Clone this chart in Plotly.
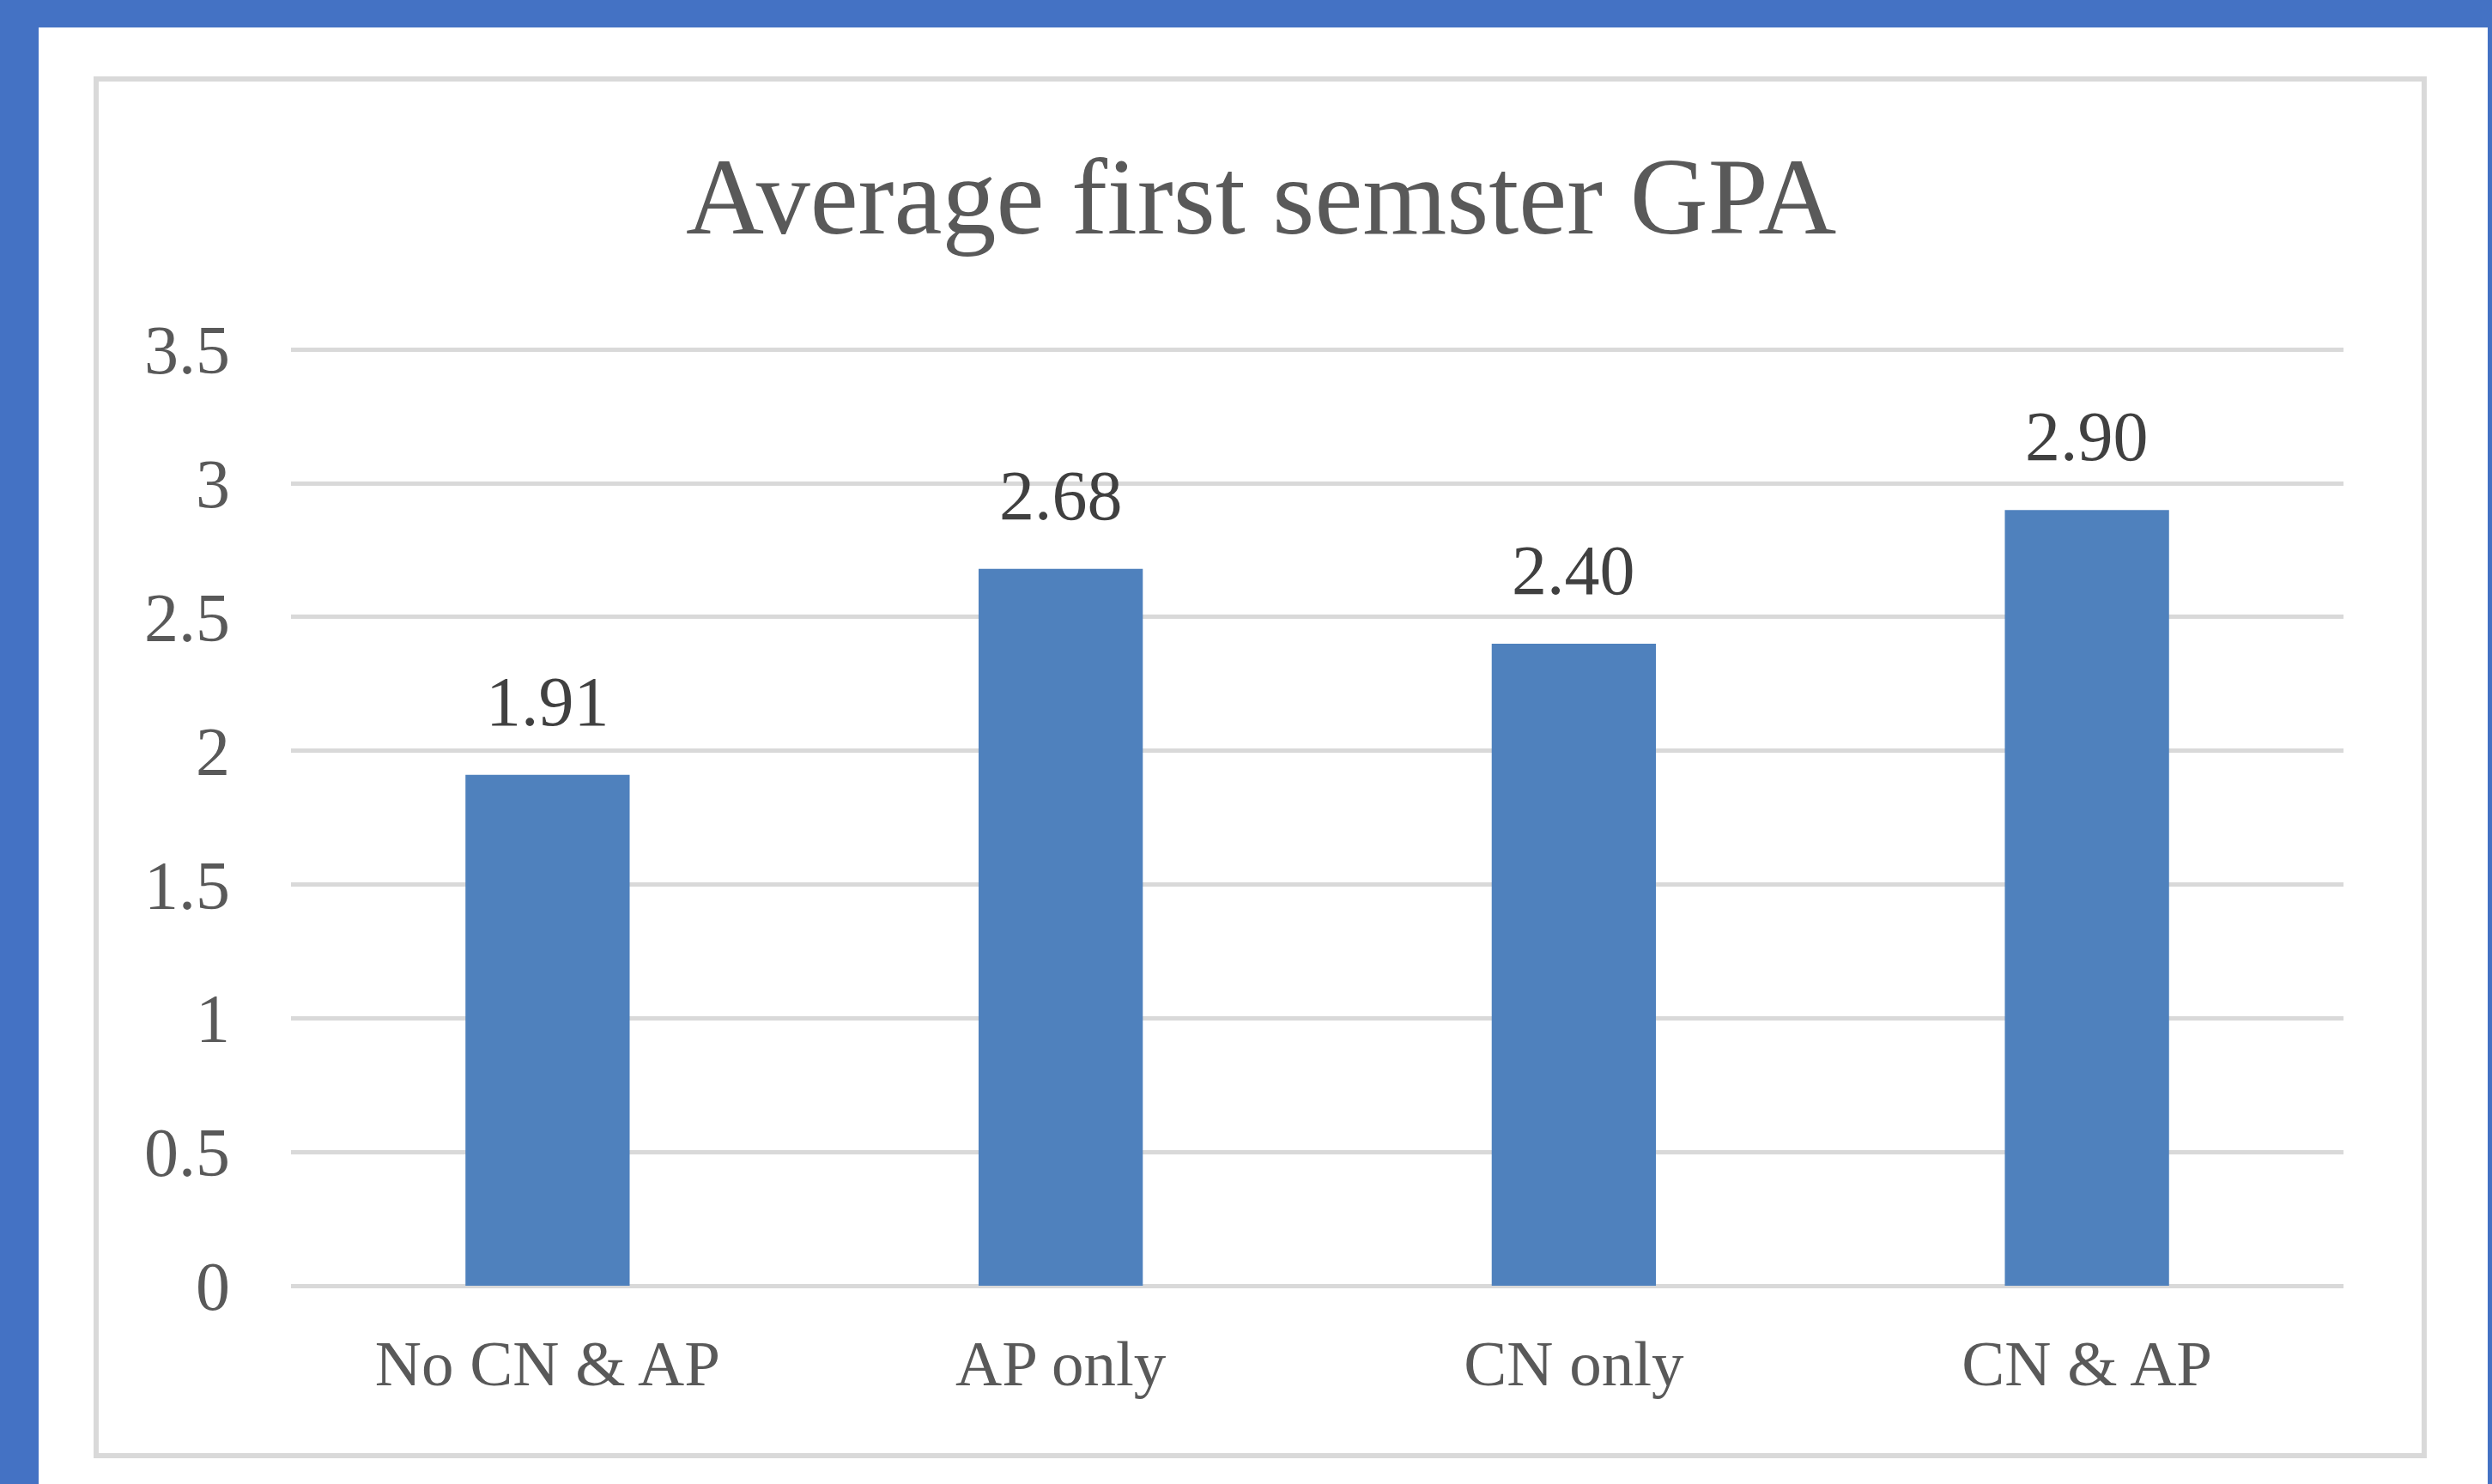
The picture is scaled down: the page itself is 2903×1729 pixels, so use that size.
import plotly.graph_objects as go

categories = ["No CN & AP", "AP only", "CN only", "CN & AP"]
gpa_values = [1.91, 2.68, 2.40, 2.90]
value_labels = ["1.91", "2.68", "2.40", "2.90"]
y_ticks = [0, 0.5, 1, 1.5, 2, 2.5, 3, 3.5]

W, H = 2903, 1729
L, R, T, B = 339, 2730, 405, 1498  # plot area in pixels
PW, PH = R - L, B - T


def px(x):
    return (x - L) / PW


def py(y):
    return (B - y) / PH


FONT = "Liberation Serif"
BAR = "#4F81BD"
GRID = "#D9D9D9"
BLUE = "#4472C4"

fig = go.Figure()
fig.add_trace(go.Bar(
    x=categories,
    y=gpa_values,
    width=0.32,
    marker=dict(color=BAR, line=dict(width=0)),
    hoverinfo="skip",
))

annotations = []
for c, v, t in zip(categories, gpa_values, value_labels):
    annotations.append(dict(
        x=c, y=v, xref="x", yref="y", text=t, showarrow=False,
        yanchor="bottom", yshift=38,
        font=dict(family=FONT, size=82, color="#404040"),
    ))

annotations.append(dict(
    x=px(1469), y=py(229), xref="paper", yref="paper",
    text="Average first semster GPA", showarrow=False,
    xanchor="center", yanchor="middle",
    font=dict(family=FONT, size=126, color="#595959"),
))

shapes = [
    # white inner page over blue frame
    dict(type="rect", xref="paper", yref="paper", layer="below",
         x0=px(45), x1=px(2898), y0=py(32), y1=py(1740),
         fillcolor="white", line=dict(width=0)),
    # chart area border
    dict(type="rect", xref="paper", yref="paper", layer="below",
         x0=px(112), x1=px(2824), y0=py(92), y1=py(1696),
         fillcolor="white", line=dict(color=GRID, width=6)),
]

fig.update_layout(
    width=W, height=H,
    margin=dict(l=L, r=W - R, t=T, b=H - B, pad=0),
    paper_bgcolor=BLUE,
    plot_bgcolor="rgba(0,0,0,0)",
    showlegend=False,
    annotations=annotations,
    shapes=shapes,
)

fig.update_xaxes(
    showgrid=False, showline=False, zeroline=False,
    ticks="", ticklabelstandoff=40,
    tickfont=dict(family=FONT, size=75, color="#595959"),
)
fig.update_yaxes(
    range=[0, 3.507], tickvals=y_ticks,
    showgrid=True, gridcolor=GRID, gridwidth=5,
    zeroline=True, zerolinecolor=GRID, zerolinewidth=5,
    showline=False, ticks="", ticklabelstandoff=70,
    tickfont=dict(family=FONT, size=80, color="#595959"),
)

fig.write_html(
    "out.html",
    config={"displayModeBar": False},
    post_script="document.body.style.margin='0';document.body.style.overflow='hidden';",
)
